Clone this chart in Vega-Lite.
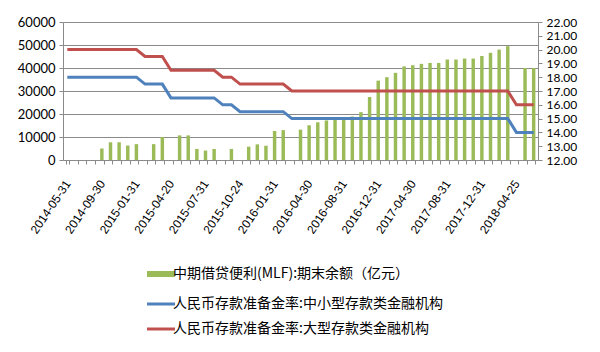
{
  "$schema": "https://vega.github.io/schema/vega-lite/v6.json",
  "width": 475,
  "height": 138,
  "autosize": {"type": "none"},
  "padding": {"left": 63, "top": 22, "right": 62, "bottom": 192},
  "background": "white",
  "config": {"view": {"stroke": null}, "font": "Liberation Sans"},
  "data": {"values": [
    {"d": "2014-05-31", "mlf": null, "small": 18, "large": 20},
    {"d": "2014-06-30", "mlf": null, "small": 18, "large": 20},
    {"d": "2014-07-31", "mlf": null, "small": 18, "large": 20},
    {"d": "2014-08-31", "mlf": null, "small": 18, "large": 20},
    {"d": "2014-09-30", "mlf": 5000, "small": 18, "large": 20},
    {"d": "2014-10-31", "mlf": 7700, "small": 18, "large": 20},
    {"d": "2014-11-30", "mlf": 7700, "small": 18, "large": 20},
    {"d": "2014-12-31", "mlf": 6300, "small": 18, "large": 20},
    {"d": "2015-01-31", "mlf": 6900, "small": 18, "large": 20},
    {"d": "2015-02-05", "mlf": null, "small": 17.5, "large": 19.5},
    {"d": "2015-02-28", "mlf": 6900, "small": 17.5, "large": 19.5},
    {"d": "2015-03-31", "mlf": 10000, "small": 17.5, "large": 19.5},
    {"d": "2015-04-20", "mlf": null, "small": 16.5, "large": 18.5},
    {"d": "2015-04-30", "mlf": 10700, "small": 16.5, "large": 18.5},
    {"d": "2015-05-31", "mlf": 10700, "small": 16.5, "large": 18.5},
    {"d": "2015-06-30", "mlf": 4800, "small": 16.5, "large": 18.5},
    {"d": "2015-07-31", "mlf": 4100, "small": 16.5, "large": 18.5},
    {"d": "2015-08-31", "mlf": 4800, "small": 16.5, "large": 18.5},
    {"d": "2015-09-06", "mlf": null, "small": 16, "large": 18},
    {"d": "2015-09-30", "mlf": 4800, "small": 16, "large": 18},
    {"d": "2015-10-24", "mlf": null, "small": 15.5, "large": 17.5},
    {"d": "2015-10-31", "mlf": 5800, "small": 15.5, "large": 17.5},
    {"d": "2015-11-30", "mlf": 6800, "small": 15.5, "large": 17.5},
    {"d": "2015-12-31", "mlf": 6200, "small": 15.5, "large": 17.5},
    {"d": "2016-01-31", "mlf": 12600, "small": 15.5, "large": 17.5},
    {"d": "2016-02-29", "mlf": 13000, "small": 15.5, "large": 17.5},
    {"d": "2016-03-01", "mlf": null, "small": 15, "large": 17},
    {"d": "2016-03-31", "mlf": 13200, "small": 15, "large": 17},
    {"d": "2016-04-30", "mlf": 15100, "small": 15, "large": 17},
    {"d": "2016-05-31", "mlf": 16400, "small": 15, "large": 17},
    {"d": "2016-06-30", "mlf": 17200, "small": 15, "large": 17},
    {"d": "2016-07-31", "mlf": 17500, "small": 15, "large": 17},
    {"d": "2016-08-31", "mlf": 17500, "small": 15, "large": 17},
    {"d": "2016-09-30", "mlf": 18900, "small": 15, "large": 17},
    {"d": "2016-10-31", "mlf": 20800, "small": 15, "large": 17},
    {"d": "2016-11-30", "mlf": 27400, "small": 15, "large": 17},
    {"d": "2016-12-31", "mlf": 34500, "small": 15, "large": 17},
    {"d": "2017-01-31", "mlf": 36000, "small": 15, "large": 17},
    {"d": "2017-02-28", "mlf": 37900, "small": 15, "large": 17},
    {"d": "2017-03-31", "mlf": 40700, "small": 15, "large": 17},
    {"d": "2017-04-30", "mlf": 41200, "small": 15, "large": 17},
    {"d": "2017-05-31", "mlf": 41800, "small": 15, "large": 17},
    {"d": "2017-06-30", "mlf": 42200, "small": 15, "large": 17},
    {"d": "2017-07-31", "mlf": 42200, "small": 15, "large": 17},
    {"d": "2017-08-31", "mlf": 43700, "small": 15, "large": 17},
    {"d": "2017-09-30", "mlf": 43700, "small": 15, "large": 17},
    {"d": "2017-10-31", "mlf": 44100, "small": 15, "large": 17},
    {"d": "2017-11-30", "mlf": 44100, "small": 15, "large": 17},
    {"d": "2017-12-31", "mlf": 45200, "small": 15, "large": 17},
    {"d": "2018-01-31", "mlf": 46600, "small": 15, "large": 17},
    {"d": "2018-02-28", "mlf": 48000, "small": 15, "large": 17},
    {"d": "2018-03-31", "mlf": 49500, "small": 15, "large": 17},
    {"d": "2018-04-25", "mlf": null, "small": 14, "large": 16},
    {"d": "2018-04-30", "mlf": 40000, "small": 14, "large": 16},
    {"d": "2018-05-31", "mlf": 40000, "small": 14, "large": 16}
  ]},
  "encoding": {
    "x": {
      "field": "d",
      "type": "nominal",
      "sort": null,
      "scale": {
        "domain": ["2014-05-31","2014-06-30","2014-07-31","2014-08-31","2014-09-30","2014-10-31","2014-11-30","2014-12-31","2015-01-31","2015-02-05","2015-02-28","2015-03-31","2015-04-20","2015-04-30","2015-05-31","2015-06-30","2015-07-31","2015-08-31","2015-09-06","2015-09-30","2015-10-24","2015-10-31","2015-11-30","2015-12-31","2016-01-31","2016-02-29","2016-03-01","2016-03-31","2016-04-30","2016-05-31","2016-06-30","2016-07-31","2016-08-31","2016-09-30","2016-10-31","2016-11-30","2016-12-31","2017-01-31","2017-02-28","2017-03-31","2017-04-30","2017-05-31","2017-06-30","2017-07-31","2017-08-31","2017-09-30","2017-10-31","2017-11-30","2017-12-31","2018-01-31","2018-02-28","2018-03-31","2018-04-25","2018-04-30","2018-05-31"],
        "paddingInner": 0.6,
        "paddingOuter": 0.3
      },
      "axis": {
        "title": null,
        "tickBand": "extent",
        "tickSize": 4,
        "tickColor": "#8a8a8a",
        "domainColor": "#8a8a8a",
        "labelAngle": -56,
        "labelFontSize": 12,
        "labelColor": "#000000",
        "labelPadding": 17,
        "labelOverlap": false,
        "labelExpr": "indexof(['2014-05-31','2014-09-30','2015-01-31','2015-04-20','2015-07-31','2015-10-24','2016-01-31','2016-04-30','2016-08-31','2016-12-31','2017-04-30','2017-08-31','2017-12-31','2018-04-25'], datum.value) >= 0 ? datum.value : ''"
      }
    }
  },
  "layer": [
    {
      "mark": {"type": "bar"},
      "encoding": {
        "y": {
          "field": "mlf",
          "type": "quantitative",
          "scale": {"domain": [0, 60000], "nice": false},
          "axis": {
            "orient": "left",
            "title": null,
            "values": [0, 10000, 20000, 30000, 40000, 50000, 60000],
            "format": "d",
            "grid": true,
            "gridColor": "#8a8a8a",
            "gridWidth": 1,
            "domainColor": "#8a8a8a",
            "tickColor": "#8a8a8a",
            "tickSize": 4,
            "labelFont": "Lato",
            "labelFontSize": 13,
            "labelColor": "#000000",
            "labelPadding": 4
          }
        },
        "color": {
          "datum": "mlf",
          "type": "nominal",
          "title": null,
          "scale": {"domain": ["mlf", "small", "large"], "range": ["#9BBB59", "#4F81BD", "#C0504D"]},
          "legend": {
            "orient": "none",
            "legendX": 91,
            "legendY": 245,
            "direction": "vertical",
            "title": null,
            "symbolType": "stroke",
            "symbolSize": 784,
            "symbolStrokeWidth": 3,
            "labelFont": "Noto Sans CJK SC",
            "labelFontSize": 14,
            "labelColor": "#000000",
            "labelOffset": 5,
            "rowPadding": 11,
            "labelLimit": 400,
            "labelExpr": "datum.value === 'mlf' ? '中期借贷便利(MLF):期末余额（亿元）' : datum.value === 'small' ? '人民币存款准备金率:中小型存款类金融机构' : '人民币存款准备金率:大型存款类金融机构'",
            "encode": {
              "symbols": {
                "update": {
                  "stroke": {"scale": "color", "field": "value"},
                  "strokeWidth": {"signal": "datum.value === 'mlf' ? 6 : 3"}
                }
              }
            }
          }
        }
      }
    },
    {
      "transform": [{"fold": ["small", "large"], "as": ["key", "rrr"]}],
      "mark": {"type": "line", "strokeWidth": 3},
      "encoding": {
        "y": {
          "field": "rrr",
          "type": "quantitative",
          "scale": {"domain": [12, 22], "nice": false, "zero": false},
          "axis": {
            "orient": "right",
            "title": null,
            "values": [12, 13, 14, 15, 16, 17, 18, 19, 20, 21, 22],
            "format": ".2f",
            "grid": false,
            "domainColor": "#8a8a8a",
            "tickColor": "#8a8a8a",
            "tickSize": 4,
            "labelFont": "Lato",
            "labelFontSize": 12,
            "labelColor": "#000000",
            "labelPadding": 4
          }
        },
        "color": {
          "field": "key",
          "type": "nominal",
          "title": null,
          "scale": {"domain": ["mlf", "small", "large"], "range": ["#9BBB59", "#4F81BD", "#C0504D"]}
        }
      }
    }
  ],
  "resolve": {"scale": {"y": "independent"}}
}
